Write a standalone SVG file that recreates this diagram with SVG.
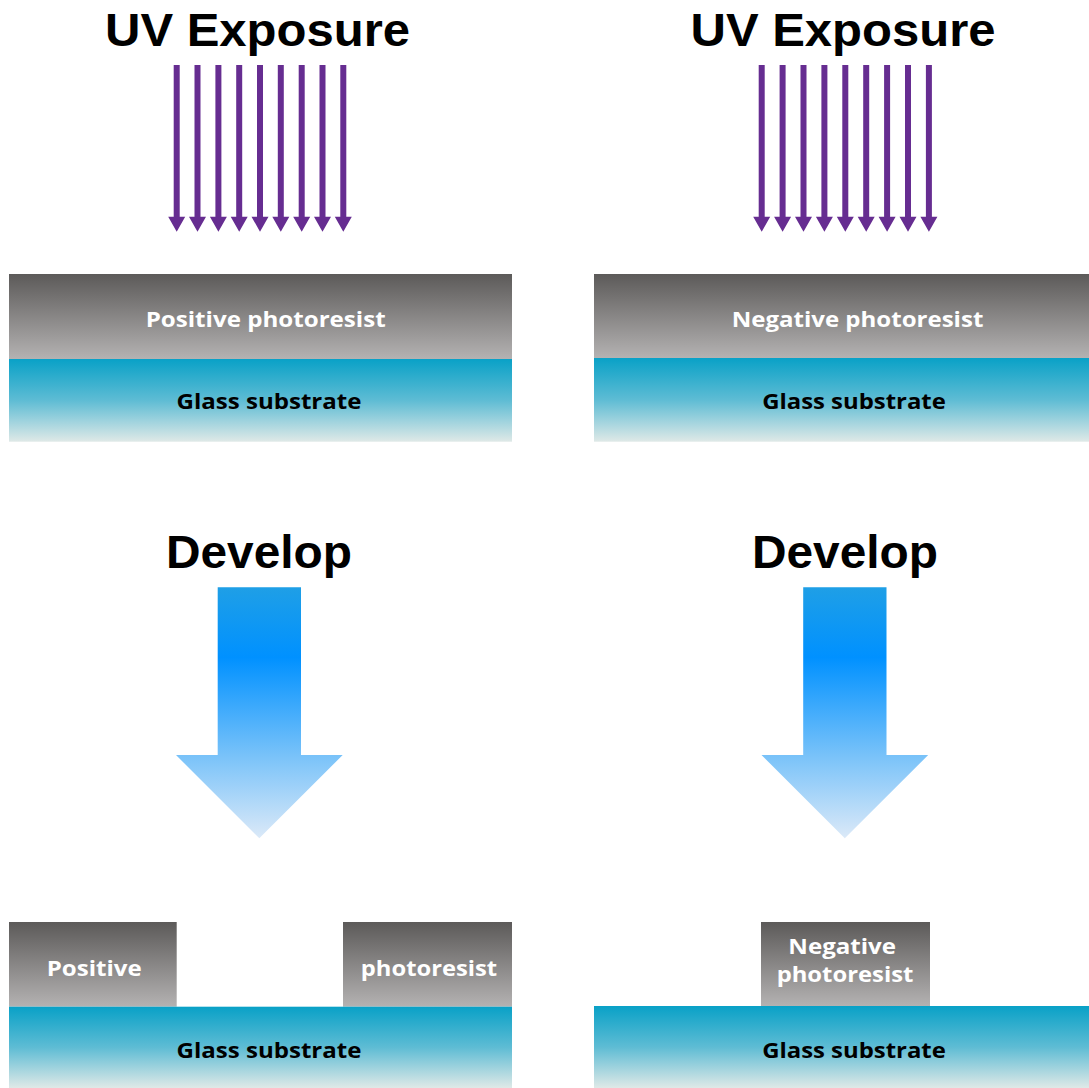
<svg xmlns="http://www.w3.org/2000/svg" xmlns:xlink="http://www.w3.org/1999/xlink" width="1089" height="1088" viewBox="0 0 1089 1088">
<defs>
<linearGradient id="resist" x1="0" y1="0" x2="0" y2="1">
<stop offset="0" stop-color="#5c5a59"/>
<stop offset="1" stop-color="#b4b2b2"/>
</linearGradient>
<linearGradient id="glass" x1="0" y1="0" x2="0" y2="1">
<stop offset="0" stop-color="#09a1c7"/>
<stop offset="0.5" stop-color="#5ebcd4"/>
<stop offset="1" stop-color="#dfe9e7"/>
</linearGradient>
<linearGradient id="dev" x1="0" y1="587" x2="0" y2="838" gradientUnits="userSpaceOnUse">
<stop offset="0" stop-color="#1f9fe6"/>
<stop offset="0.28" stop-color="#0091ff"/>
<stop offset="0.67" stop-color="#78c2f9"/>
<stop offset="1" stop-color="#dbe9f8"/>
</linearGradient>
<path id="uv" d="M-3,65 H3 V216.7 H8.5 L0,231.7 L-8.5,216.7 H-3 Z"/>
</defs>
<style>
.title{font-family:"Liberation Sans","Open Sans",sans-serif;font-weight:700;font-size:47px;fill:#000;text-anchor:middle}
.lbl{font-family:"Open Sans","Liberation Sans",sans-serif;font-weight:700;font-size:22px;text-anchor:middle}
.w{fill:#fff}
.k{fill:#000}
.uv{fill:#662d91}
.devarrow{fill:url(#dev)}
</style>
<rect width="1089" height="1088" fill="#fff"/>

<g id="title-uv-left"><text class="title" x="257.5" y="45.5" textLength="305" lengthAdjust="spacingAndGlyphs">UV Exposure</text></g>
<g id="title-uv-right"><text class="title" x="843" y="45.5" textLength="305" lengthAdjust="spacingAndGlyphs">UV Exposure</text></g>

<g id="connectors">
<g id="uv-left" class="uv">
<use xlink:href="#uv" x="176.7"/><use xlink:href="#uv" x="197.5"/><use xlink:href="#uv" x="218.4"/>
<use xlink:href="#uv" x="239.2"/><use xlink:href="#uv" x="260.0"/><use xlink:href="#uv" x="280.8"/>
<use xlink:href="#uv" x="301.7"/><use xlink:href="#uv" x="322.5"/><use xlink:href="#uv" x="343.3"/>
</g>
<g id="uv-right" class="uv">
<use xlink:href="#uv" x="761.7"/><use xlink:href="#uv" x="782.6"/><use xlink:href="#uv" x="803.5"/>
<use xlink:href="#uv" x="824.4"/><use xlink:href="#uv" x="845.3"/><use xlink:href="#uv" x="866.2"/>
<use xlink:href="#uv" x="887.1"/><use xlink:href="#uv" x="908.0"/><use xlink:href="#uv" x="928.9"/>
</g>
<path id="develop-arrow-left" class="devarrow" d="M217.7,587.3 H301 V755 H342.7 L259.3,838.3 L176,755 H217.7 Z"/>
<path id="develop-arrow-right" class="devarrow" d="M803.2,587.3 H886.5 V755 H928.2 L844.8,838.3 L761.5,755 H803.2 Z"/>
</g>

<g id="positive-resist-top"><rect x="9" y="274" width="503" height="85" fill="url(#resist)"/><text class="lbl w" x="265.7" y="326.7" textLength="240" lengthAdjust="spacingAndGlyphs">Positive photoresist</text></g>
<g id="glass-top-left"><rect x="9" y="359" width="503" height="82.7" fill="url(#glass)"/><text class="lbl k" x="269" y="409" textLength="185" lengthAdjust="spacingAndGlyphs">Glass substrate</text></g>

<g id="negative-resist-top"><rect x="594" y="274" width="495" height="84" fill="url(#resist)"/><text class="lbl w" x="857.5" y="326.7" textLength="251.7" lengthAdjust="spacingAndGlyphs">Negative photoresist</text></g>
<g id="glass-top-right"><rect x="594" y="358" width="495" height="83.7" fill="url(#glass)"/><text class="lbl k" x="854" y="409" textLength="183.7" lengthAdjust="spacingAndGlyphs">Glass substrate</text></g>

<g id="title-develop-left"><text class="title" x="259" y="568.3" textLength="186" lengthAdjust="spacingAndGlyphs">Develop</text></g>
<g id="title-develop-right"><text class="title" x="845" y="568.3" textLength="186" lengthAdjust="spacingAndGlyphs">Develop</text></g>

<g id="positive-resist-bottom-left"><rect x="9" y="922" width="167.7" height="84.7" fill="url(#resist)"/><text class="lbl w" x="94.2" y="975.7" textLength="95" lengthAdjust="spacingAndGlyphs">Positive</text></g>
<g id="positive-resist-bottom-right"><rect x="343" y="922" width="169" height="84.7" fill="url(#resist)"/><text class="lbl w" x="429" y="975.7" textLength="136.3" lengthAdjust="spacingAndGlyphs">photoresist</text></g>
<g id="glass-bottom-left"><rect x="9" y="1006.7" width="503" height="81.3" fill="url(#glass)"/><text class="lbl k" x="269" y="1057.7" textLength="185" lengthAdjust="spacingAndGlyphs">Glass substrate</text></g>

<g id="negative-resist-bottom"><rect x="761" y="922" width="169" height="84" fill="url(#resist)"/><text class="lbl w" x="842.2" y="954.3" textLength="107.7" lengthAdjust="spacingAndGlyphs">Negative</text><text class="lbl w" x="845" y="981.7" textLength="136.7" lengthAdjust="spacingAndGlyphs">photoresist</text></g>
<g id="glass-bottom-right"><rect x="594" y="1006" width="495" height="82" fill="url(#glass)"/><text class="lbl k" x="854" y="1057.7" textLength="183.7" lengthAdjust="spacingAndGlyphs">Glass substrate</text></g>
</svg>
